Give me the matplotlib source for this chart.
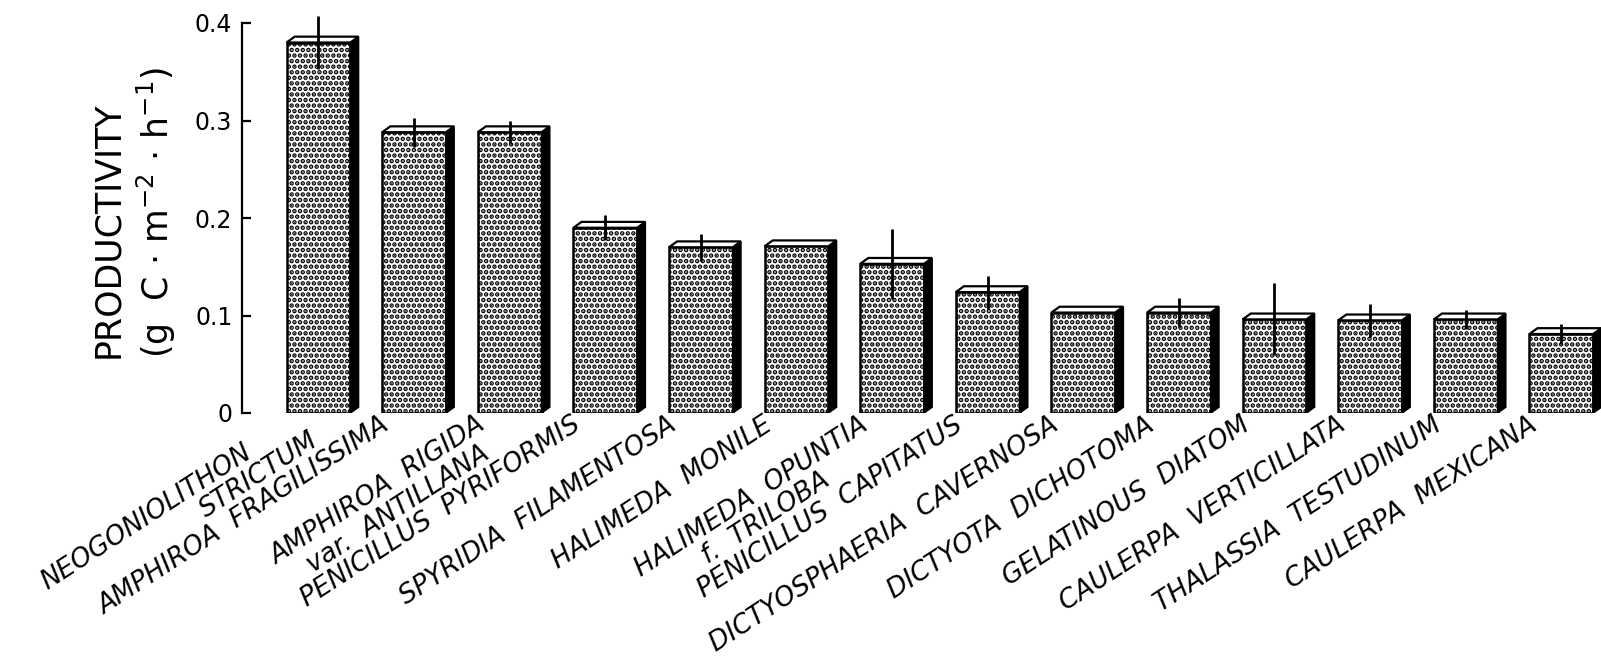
import matplotlib
matplotlib.use("Agg")
import matplotlib.pyplot as plt
from matplotlib.patches import Polygon
from matplotlib.transforms import offset_copy
import numpy as np

species = [
    "NEOGONIOLITHON\nSTRICTUM",
    "AMPHIROA  FRAGILISSIMA",
    "AMPHIROA  RIGIDA\nvar.  ANTILLANA",
    "PENICILLUS  PYRIFORMIS",
    "SPYRIDIA  FILAMENTOSA",
    "HALIMEDA  MONILE",
    "HALIMEDA  OPUNTIA\nf.  TRILOBA",
    "PENICILLUS  CAPITATUS",
    "DICTYOSPHAERIA  CAVERNOSA",
    "DICTYOTA  DICHOTOMA",
    "GELATINOUS  DIATOM",
    "CAULERPA  VERTICILLATA",
    "THALASSIA  TESTUDINUM",
    "CAULERPA  MEXICANA",
]
productivity = [0.380, 0.288, 0.288, 0.190, 0.170, 0.171, 0.153, 0.124,
                0.103, 0.103, 0.096, 0.095, 0.096, 0.081]
error = [0.027, 0.015, 0.012, 0.013, 0.014, None, 0.036, 0.017,
         None, 0.015, 0.037, 0.017, 0.010, 0.010]
yticks = [0, 0.1, 0.2, 0.3, 0.4]
ytick_labels = ["0", "0.1", "0.2", "0.3", "0.4"]

# layout only: shift (pixels, along the slanted baseline) of each label line
line_shift = [(-50, 12), (0,), (0, -12), (0,), (0,), (0,), (0, -62),
              (0,), (0,), (0,), (0,), (0,), (0,), (0,)]

plt.rcParams['hatch.linewidth'] = 2.3
plt.rcParams['font.family'] = ['DejaVu Sans']

W, H = 1601, 667
fig = plt.figure(figsize=(W / 100, H / 100), dpi=100)
ax = fig.add_axes([242 / W, 254 / H, 1358.5 / W, 409.5 / H])

x = np.arange(len(species))
bw = 0.667
depth_x = 0.085
depth_y = 0.006

bars = ax.bar(x, productivity, width=bw, color='white', edgecolor='black',
              linewidth=1.8, hatch='...', zorder=2)

for rect in bars:
    x0 = rect.get_x()
    x1 = x0 + rect.get_width()
    h = rect.get_height()
    side = Polygon([(x1, 0), (x1, h), (x1 + depth_x, h + depth_y),
                    (x1 + depth_x, depth_y)], closed=True,
                   facecolor='black', edgecolor='black', linewidth=1.2, zorder=2)
    top = Polygon([(x0, h), (x0 + depth_x, h + depth_y),
                   (x1 + depth_x, h + depth_y), (x1, h)], closed=True,
                  facecolor='white', edgecolor='black', linewidth=1.6, zorder=3)
    ax.add_patch(side)
    ax.add_patch(top)

idx = [i for i, e in enumerate(error) if e is not None]
ax.errorbar(x[idx], [productivity[i] for i in idx],
            yerr=[error[i] for i in idx], fmt='none', ecolor='black',
            elinewidth=2.0, capsize=0, zorder=5)

ax.set_xlim(-0.8, 13.41)
ax.set_ylim(0, 0.42)
ax.set_yticks(yticks)
ax.set_yticklabels(ytick_labels, fontsize=17)
ax.set_xticks([])
for s in ['top', 'right', 'bottom']:
    ax.spines[s].set_visible(False)
ax.spines['left'].set_bounds(0, 0.4)
ax.spines['left'].set_linewidth(1.6)
ax.tick_params(axis='y', direction='in', length=6.5, width=1.6, pad=7)

ax.set_ylabel("PRODUCTIVITY\n(g  C · m$^{-2}$ · h$^{-1}$)", fontsize=25,
              multialignment='left', linespacing=1.3)
ax.yaxis.set_label_coords(-0.047, 0.49)

angle = 33
a = np.deg2rad(angle)
along = np.array([np.cos(a), np.sin(a)])      # up-right, display px (y up)
perp = np.array([np.sin(a), -np.cos(a)])      # down-right
line_gap = 26.0
for xi, lab, shifts in zip(x, species, line_shift):
    for k, (line, sh) in enumerate(zip(lab.split("\n"), shifts)):
        d = sh * along + k * line_gap * perp
        tr = offset_copy(ax.transData, fig=fig, x=d[0] - 2, y=d[1] + 1,
                         units='dots')
        ax.text(xi - bw / 2, 0, line, transform=tr, rotation=angle,
                rotation_mode='anchor', ha='right', va='top', fontsize=19,
                style='italic')

fig.savefig("out.png", dpi=100)
